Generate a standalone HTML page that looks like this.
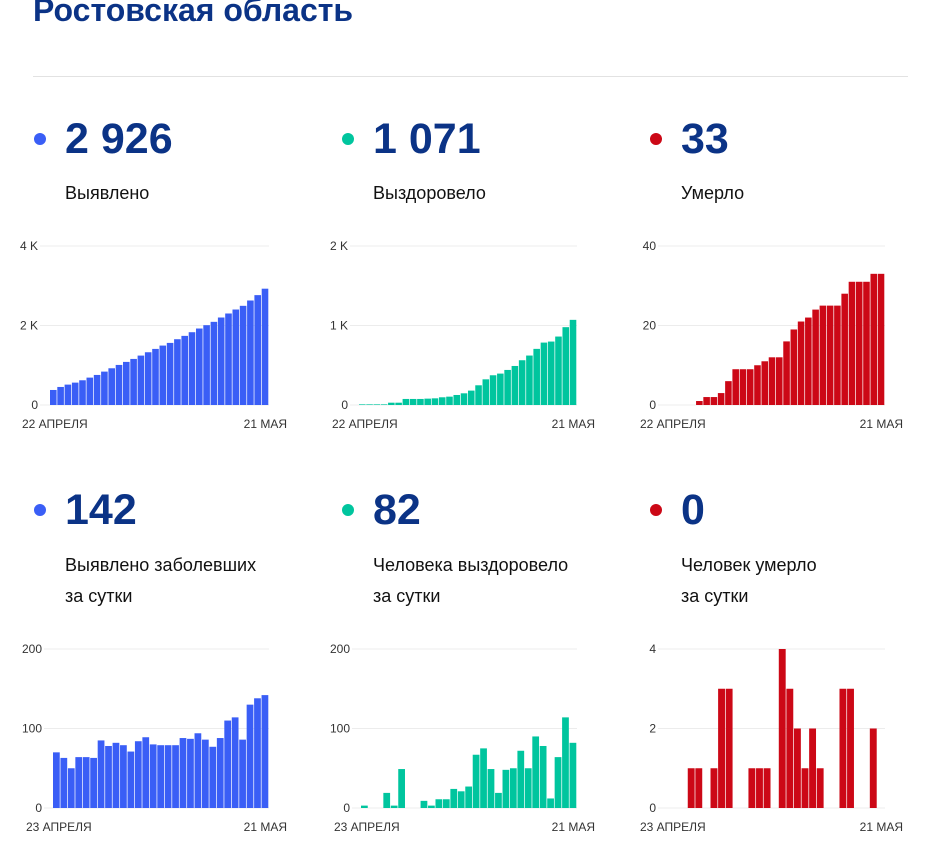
<!DOCTYPE html>
<html><head><meta charset="utf-8">
<style>
body{margin:0;width:935px;height:843px;background:#fff;position:relative;overflow:hidden;font-family:"Liberation Sans",sans-serif}
.t{position:absolute;white-space:nowrap}
.title{left:33px;top:-8px;font-size:32px;font-weight:bold;color:#0b3386}
.num{font-size:43px;font-weight:bold;color:#0b3386;line-height:1}
.lbl{font-size:18px;color:#111;line-height:31px}
.dot{position:absolute;width:12px;height:12px;border-radius:50%}
svg{position:absolute;left:0;top:0}
</style></head><body>
<div class="t title">Ростовская область</div>
<div style="position:absolute;left:33px;top:76px;width:875px;height:1px;background:#e2e2e2"></div>

<div class="dot" style="left:34px;top:133px;background:#3a5ef6"></div>
<div class="t num" style="left:65px;top:118px">2 926</div>
<div class="t lbl" style="left:65px;top:178px">Выявлено</div>
<div class="dot" style="left:342px;top:133px;background:#00c59e"></div>
<div class="t num" style="left:373px;top:118px">1 071</div>
<div class="t lbl" style="left:373px;top:178px">Выздоровело</div>
<div class="dot" style="left:650px;top:133px;background:#cc0816"></div>
<div class="t num" style="left:681px;top:118px">33</div>
<div class="t lbl" style="left:681px;top:178px">Умерло</div>

<div class="dot" style="left:34px;top:504px;background:#3a5ef6"></div>
<div class="t num" style="left:65px;top:489px">142</div>
<div class="t lbl" style="left:65px;top:550px">Выявлено заболевших<br>за сутки</div>
<div class="dot" style="left:342px;top:504px;background:#00c59e"></div>
<div class="t num" style="left:373px;top:489px">82</div>
<div class="t lbl" style="left:373px;top:550px">Человека выздоровело<br>за сутки</div>
<div class="dot" style="left:650px;top:504px;background:#cc0816"></div>
<div class="t num" style="left:681px;top:489px">0</div>
<div class="t lbl" style="left:681px;top:550px">Человек умерло<br>за сутки</div>

<svg id="charts" width="935" height="843"></svg>
<script>
const casesCum=[378,454,513,563,622,689,756,840,924,1008,1084,1159,1243,1327,1411,1495,1562,1655,1739,1831,1924,2008,2092,2201,2302,2402,2495,2629,2764,2926];
const recCum=[8,8,8,8,29,29,76,76,76,80,84,97,105,126,147,181,248,323,374,395,441,491,563,622,706,785,798,861,979,1071];
const deathCum=[0,0,0,0,1,2,2,3,6,9,9,9,10,11,12,12,16,19,21,22,24,25,25,25,28,31,31,31,33,33];
const casesDay=[70,63,50,64,64,63,85,78,82,79,71,84,89,80,79,79,79,88,87,94,86,77,88,110,114,86,130,138,142];
const recDay=[3,0,0,19,3,49,0,0,9,3,11,11,24,21,27,67,75,49,19,48,50,72,50,90,78,12,64,114,82];
const deathDay=[0,0,0,1,1,0,1,3,3,0,0,1,1,1,0,4,3,2,1,2,1,0,0,3,3,0,0,2,0];
const ticksTop1=["0","2 K","4 K"],ticksTop2=["0","1 K","2 K"],ticksTop3=["0","20","40"];
const ticksBot1=["0","100","200"],ticksBot2=["0","100","200"],ticksBot3=["0","2","4"];
const BLUE="#3a5ef6",TEAL="#00c59e",RED="#cc0816";
const svg=document.getElementById('charts');
const NS="http://www.w3.org/2000/svg";
function mk(tag,attrs){const e=document.createElementNS(NS,tag);for(const k in attrs)e.setAttribute(k,attrs[k]);svg.appendChild(e);return e;}
function chart(name,data,max,ticks,color,gx0,bx0,bx1,y0,y1,startLbl){
  const yS=v=>y0-(v/max)*(y0-y1);
  ticks.forEach((t,i)=>{
    const y=y0-(i/(ticks.length-1))*(y0-y1);
    const l=mk('line',{x1:gx0,x2:bx1,y1:y,y2:y,stroke:'#ececec','stroke-width':1});
    
    
    const tx=mk('text',{x:gx0-2,y:y+4,'text-anchor':'end','font-size':12,fill:'#333','font-family':'Liberation Sans, sans-serif'});
    tx.textContent=t;
    
    
  });
  const w=(bx1-bx0)/data.length;
  data.forEach((v,i)=>{
    if(v<=0)return;
    const r=mk('rect',{x:bx0+i*w,y:yS(v),width:w-0.7,height:y0-yS(v),fill:color});
    
    
  });
  const a=mk('text',{x:gx0-18,y:y0+23,'font-size':12,fill:'#333','font-family':'Liberation Sans, sans-serif'});
  a.textContent=startLbl;
  
  
  const b=mk('text',{x:bx1+18,y:y0+23,'text-anchor':'end','font-size':12,fill:'#333','font-family':'Liberation Sans, sans-serif'});
  b.textContent='21 МАЯ';
  
  
}
chart('cases-cumulative',casesCum,4000,ticksTop1,BLUE,40,50,269,405,246,'22 АПРЕЛЯ');
chart('recovered-cumulative',recCum,2000,ticksTop2,TEAL,350,359,577,405,246,'22 АПРЕЛЯ');
chart('deaths-cumulative',deathCum,40,ticksTop3,RED,658,667,885,405,246,'22 АПРЕЛЯ');
chart('cases-daily',casesDay,200,ticksBot1,BLUE,44,53,269,808,649,'23 АПРЕЛЯ');
chart('recovered-daily',recDay,200,ticksBot2,TEAL,352,361,577,808,649,'23 АПРЕЛЯ');
chart('deaths-daily',deathDay,4,ticksBot3,RED,658,665,885,808,649,'23 АПРЕЛЯ');
</script>
</body></html>
